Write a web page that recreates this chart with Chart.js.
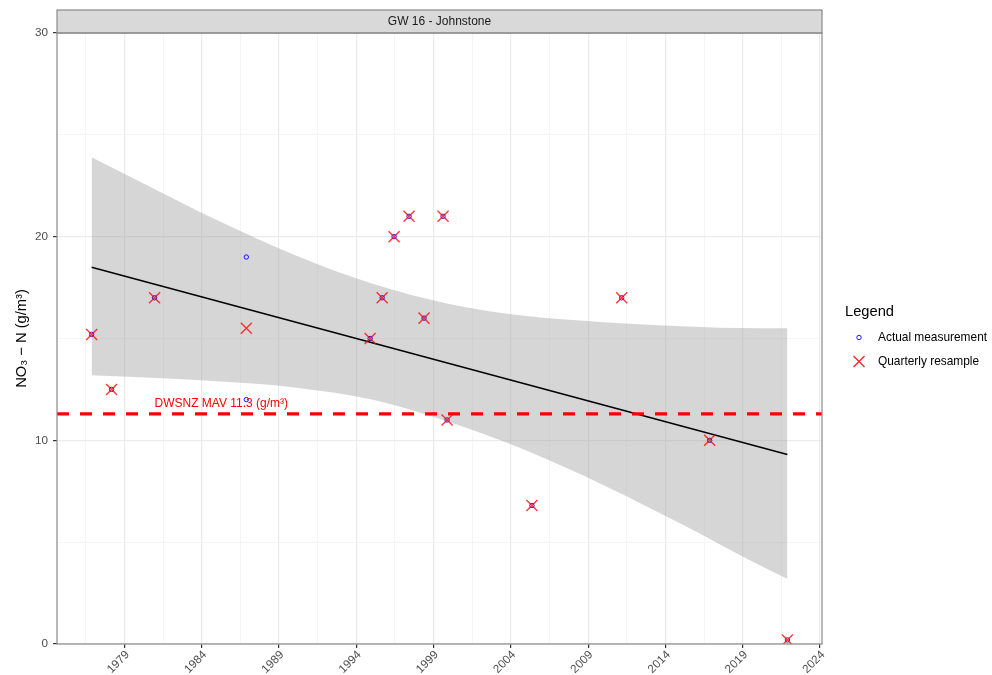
<!DOCTYPE html>
<html>
<head>
<meta charset="utf-8">
<title>GW 16 - Johnstone</title>
<script src="https://cdn.jsdelivr.net/npm/chart.js@4/dist/chart.umd.min.js"></script>
<style>
  html, body { margin: 0; padding: 0; background: #ffffff; }
  #wrap { width: 992px; height: 675px; }
</style>
</head>
<body>
<div id="wrap"><canvas id="chart" width="992" height="675"></canvas></div>
<script>
// Nitrate-nitrogen samples at bore GW 16 (decimal year, g/m3)
const resampleYears  = [1976.87, 1978.16, 1980.94, 1986.88, 1994.89, 1995.67, 1996.44, 1997.41, 1998.38, 1999.61, 1999.87, 2005.36, 2011.17, 2016.86, 2021.89];
const resampleValues = [15.2, 12.5, 17, 15.5, 15, 17, 20, 21, 16, 21, 11, 6.8, 17, 10, 0.2];

const measuredYears  = [1976.87, 1978.16, 1980.94, 1986.88, 1986.88, 1994.89, 1995.67, 1996.44, 1997.41, 1998.38, 1999.61, 1999.87, 2005.36, 2011.17, 2016.86, 2021.89];
const measuredValues = [15.2, 12.5, 17, 19, 12, 15, 17, 20, 21, 16, 21, 11, 6.8, 17, 10, 0.2];

// Linear trend and its 95% confidence band
const trendYears  = [1976.87, 2021.89];
const trendValues = [18.5, 9.3];
const bandYears   = [1976.87, 1980, 1985, 1990, 1995, 2000, 2005, 2010, 2015, 2020, 2021.89];
const bandUpper   = [23.9, 22.7, 20.8, 19.1, 17.7, 16.7, 16.1, 15.8, 15.6, 15.5, 15.5];
const bandLower   = [13.2, 13.1, 12.9, 12.6, 12.0, 10.9, 9.5, 7.8, 5.9, 3.9, 3.2];

// Drinking-water maximum acceptable value
const mavValue = 11.3;
const mavLabel = 'DWSNZ MAV 11.3 (g/m³)';
const mavLabelAt = [1985.26, 11.8];

// Axis ticks: labelled majors and unlabelled minors
const xMajorTicks = [1979, 1984, 1989, 1994, 1999, 2004, 2009, 2014, 2019, 2024];
const xMinorTicks = [1976.5, 1981.5, 1986.5, 1991.5, 1996.5, 2001.5, 2006.5, 2011.5, 2016.5, 2021.5];
const yMajorTicks = [0, 10, 20, 30];
const yMinorTicks = [5, 15, 25];

const xMin = 1974.63, xMax = 2024.13;
const panelTitle = 'GW 16 - Johnstone';
const legendTitle = 'Legend';
const seriesNames = ['Actual measurement', 'Quarterly resample'];

const FONT = '"Liberation Sans", Arial, sans-serif';
const pts = (xs, ys) => xs.map((x, i) => ({ x: x, y: ys[i] }));

const xTicksAll = xMajorTicks.concat(xMinorTicks).sort((a, b) => a - b);
const yTicksAll = yMajorTicks.concat(yMinorTicks).sort((a, b) => a - b);
const isMajor = (list, v) => list.some(t => Math.abs(t - v) < 1e-6);

// Facet strip, panel border, reference label and legend
const decorations = {
  id: 'decorations',
  beforeDraw(chart) {
    const { ctx, chartArea: a } = chart;
    ctx.save();
    ctx.fillStyle = '#d9d9d9';
    ctx.fillRect(a.left, 10, a.right - a.left, a.top - 10);
    ctx.restore();
  },
  afterDatasetsDraw(chart) {
    const { ctx, scales } = chart;
    ctx.save();
    ctx.font = '12px ' + FONT;
    ctx.fillStyle = '#ff0000';
    ctx.textAlign = 'center';
    ctx.textBaseline = 'middle';
    ctx.fillText(mavLabel, scales.x.getPixelForValue(mavLabelAt[0]), scales.y.getPixelForValue(mavLabelAt[1]));
    ctx.restore();
  },
  afterDraw(chart) {
    const { ctx, chartArea: a } = chart;
    ctx.save();
    ctx.strokeStyle = '#8a8a8a';
    ctx.lineWidth = 1.2;
    ctx.strokeRect(a.left, a.top, a.right - a.left, a.bottom - a.top);
    ctx.strokeRect(a.left, 10, a.right - a.left, a.top - 10);
    ctx.fillStyle = '#1a1a1a';
    ctx.font = '12px ' + FONT;
    ctx.textAlign = 'center';
    ctx.textBaseline = 'middle';
    ctx.fillText(panelTitle, (a.left + a.right) / 2, (10 + a.top) / 2 + 0.5);

    // legend
    const lx = a.right + 23;
    ctx.textAlign = 'left';
    ctx.fillStyle = '#000000';
    ctx.font = '14.7px ' + FONT;
    ctx.fillText(legendTitle, lx, 312);
    ctx.font = '11.9px ' + FONT;
    ctx.fillText(seriesNames[0], lx + 33, 338);
    ctx.fillText(seriesNames[1], lx + 33, 362);
    ctx.strokeStyle = '#0000ff';
    ctx.lineWidth = 0.9;
    ctx.beginPath();
    ctx.arc(lx + 14, 337.5, 2.2, 0, Math.PI * 2);
    ctx.stroke();
    ctx.strokeStyle = 'rgba(255,0,0,0.85)';
    ctx.lineWidth = 1.4;
    const cx = lx + 14, cy = 361.5, r = 5.5;
    ctx.beginPath();
    ctx.moveTo(cx - r, cy - r); ctx.lineTo(cx + r, cy + r);
    ctx.moveTo(cx + r, cy - r); ctx.lineTo(cx - r, cy + r);
    ctx.stroke();
    ctx.restore();
  }
};

new Chart(document.getElementById('chart'), {
  type: 'line',
  data: {
    datasets: [
      {
        label: 'upper',
        data: pts(bandYears, bandUpper),
        borderWidth: 0,
        pointRadius: 0,
        backgroundColor: 'rgba(153,153,153,0.4)',
        fill: '+1',
        cubicInterpolationMode: 'monotone',
        order: 6
      },
      {
        label: 'lower',
        data: pts(bandYears, bandLower),
        borderWidth: 0,
        pointRadius: 0,
        fill: false,
        cubicInterpolationMode: 'monotone',
        order: 5
      },
      {
        label: 'trend',
        data: pts(trendYears, trendValues),
        borderColor: '#000000',
        borderWidth: 1.5,
        pointRadius: 0,
        fill: false,
        order: 4
      },
      {
        label: 'MAV',
        data: [{ x: xMin, y: mavValue }, { x: xMax, y: mavValue }],
        borderColor: '#ff0000',
        borderWidth: 3.4,
        borderDash: [12, 11],
        pointRadius: 0,
        fill: false,
        order: 3
      },
      {
        label: seriesNames[0],
        data: pts(measuredYears, measuredValues),
        showLine: false,
        pointStyle: 'circle',
        pointRadius: 2.2,
        pointBorderWidth: 0.9,
        pointBorderColor: '#0000ff',
        pointBackgroundColor: 'rgba(0,0,0,0)',
        order: 2
      },
      {
        label: seriesNames[1],
        data: pts(resampleYears, resampleValues),
        showLine: false,
        pointStyle: 'crossRot',
        pointRadius: 7.8,
        pointBorderWidth: 1.4,
        pointBorderColor: 'rgba(255,0,0,0.78)',
        order: 1
      }
    ]
  },
  options: {
    responsive: false,
    animation: false,
    events: [],
    layout: { padding: { left: 0, top: 33, right: 170, bottom: 0 } },
    plugins: {
      legend: { display: false },
      tooltip: { enabled: false },
      title: { display: false }
    },
    scales: {
      x: {
        type: 'linear',
        min: xMin,
        max: xMax,
        afterBuildTicks(scale) { scale.ticks = xTicksAll.map(v => ({ value: v })); },
        afterFit(scale) { scale.height = 31; },
        border: { display: false },
        grid: {
          color: c => isMajor(xMajorTicks, c.tick.value) ? '#ebebeb' : '#f2f2f2',
          lineWidth: c => isMajor(xMajorTicks, c.tick.value) ? 1.2 : 0.8,
          tickColor: c => isMajor(xMajorTicks, c.tick.value) ? '#333333' : 'rgba(0,0,0,0)',
          tickLength: 4,
          tickWidth: 1.2
        },
        ticks: {
          autoSkip: false,
          minRotation: 45,
          maxRotation: 45,
          padding: 0,
          labelOffset: 3,
          color: '#4d4d4d',
          font: { family: FONT, size: 11.7 },
          callback: v => isMajor(xMajorTicks, v) ? String(v) : ''
        }
      },
      y: {
        type: 'linear',
        min: 0,
        max: 30,
        afterBuildTicks(scale) { scale.ticks = yTicksAll.map(v => ({ value: v })); },
        afterFit(scale) { scale.width = 57; },
        border: { display: false },
        grid: {
          color: c => isMajor(yMajorTicks, c.tick.value) ? '#ebebeb' : '#f2f2f2',
          lineWidth: c => isMajor(yMajorTicks, c.tick.value) ? 1.2 : 0.8,
          tickColor: c => isMajor(yMajorTicks, c.tick.value) ? '#333333' : 'rgba(0,0,0,0)',
          tickLength: 4,
          tickWidth: 1.2
        },
        ticks: {
          padding: 5,
          color: '#4d4d4d',
          font: { family: FONT, size: 11.7 },
          callback: v => isMajor(yMajorTicks, v) ? String(v) : ''
        },
        title: {
          display: true,
          text: 'NO₃ − N (g/m³)',
          color: '#000000',
          font: { family: FONT, size: 14.7 },
          padding: { top: 13, bottom: 0 }
        }
      }
    }
  },
  plugins: [decorations]
});
</script>
</body>
</html>
